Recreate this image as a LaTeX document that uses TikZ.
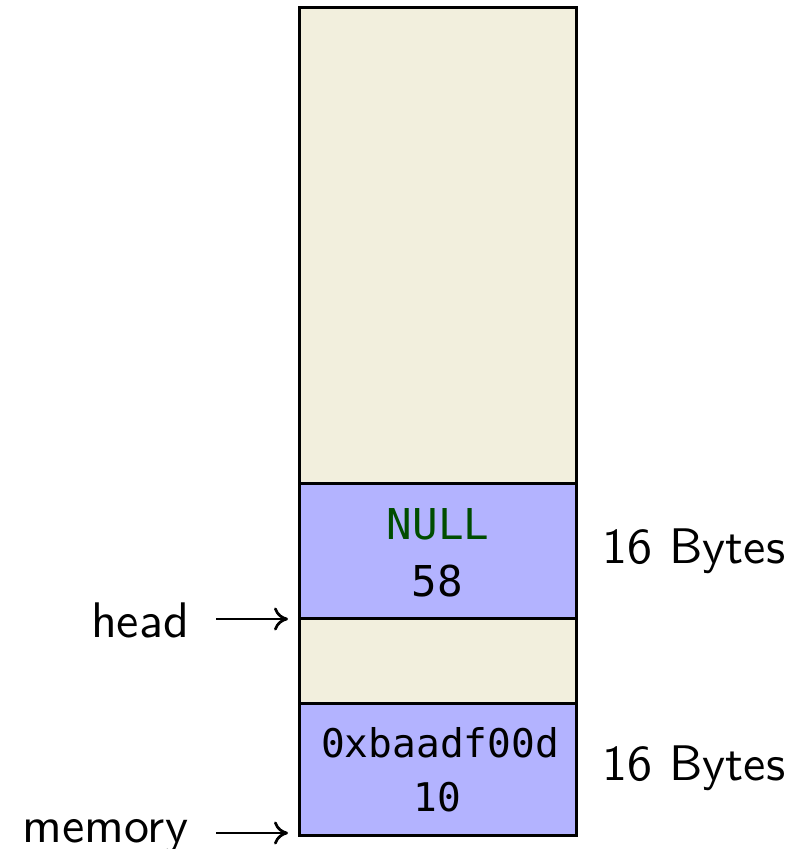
\documentclass[tikz,border=0pt]{standalone}
\usepackage{fontspec}
\setmonofont{DejaVu Sans Mono}
\usetikzlibrary{arrows.meta}
\definecolor{freecol}{RGB}{242,239,221}
\definecolor{usedcol}{RGB}{179,179,255}
\definecolor{nullcol}{RGB}{0,77,0}
\begin{document}
\begin{tikzpicture}[x=0.2pt,y=-0.2pt,
  cell/.style={draw=black,line width=0.6pt,minimum width=55.4pt,inner sep=0pt,outer sep=0pt,anchor=north west},
  lbl/.style={font=\sffamily\fontsize{10}{12}\selectfont,inner sep=0pt},
  monobig/.style={font=\ttfamily\fontsize{8.5}{10}\selectfont,inner sep=0pt},
  monosmall/.style={font=\ttfamily\fontsize{7.9}{10}\selectfont,inner sep=0pt},
  ptr/.style={line width=0.55pt,-{Computer Modern Rightarrow[length=2.8pt,width=4.6pt]}}]
\useasboundingbox (0,0) rectangle (810,849);
\node[cell,fill=freecol,minimum height=95.2pt] (free1) at (299,8) {};
\node[cell,fill=usedcol,minimum height=26.8pt] (blk1) at (299,484) {};
\node[cell,fill=freecol,minimum height=17pt] (free2) at (299,618) {};
\node[cell,fill=usedcol,minimum height=26.4pt] (blk2) at (299,703) {};
\node[monobig,text=nullcol] (n1) at (438,524) {NULL};
\node[monobig] (s1) at (437,581) {58};
\node[monosmall] (n2) at (440,743) {0xbaadf00d};
\node[monosmall] (s2) at (437,797) {10};
\node[lbl] (b1) at (694,551) {16 Bytes};
\node[lbl] (b2) at (694,768) {16 Bytes};
\node[lbl,anchor=east] (head) at (190,620) {head};
\node[lbl,anchor=base east] (mem) at (189,842) {memory};
\coordinate (h0) at (216,619);
\coordinate (h1) at (288,619);
\coordinate (m0) at (216,833);
\coordinate (m1) at (288,833);
\draw[ptr] (h0) -- (h1);
\draw[ptr] (m0) -- (m1);
\end{tikzpicture}
\end{document}
